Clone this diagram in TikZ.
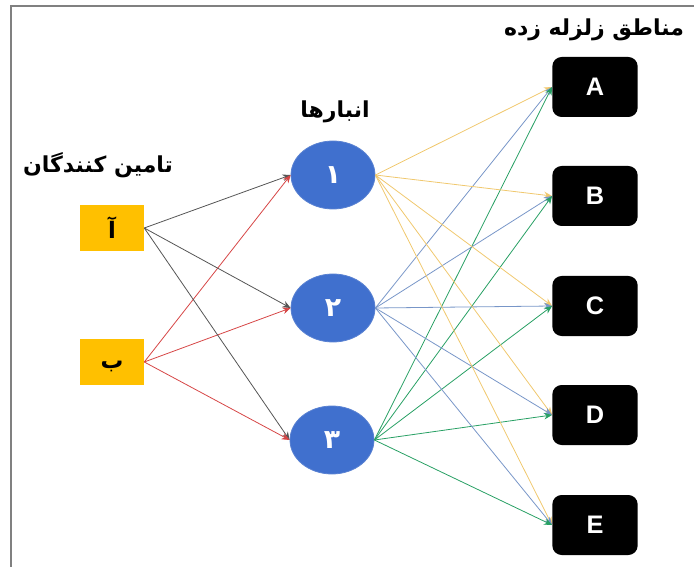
\documentclass[tikz,border=0pt]{standalone}
\usepackage{fontspec}
\setmainfont{Liberation Sans}
\newfontfamily\farsi[Script=Arabic]{DejaVu Sans}
\TeXXeTstate=1
\usetikzlibrary{shapes.geometric,arrows.meta}

\definecolor{frameg}{RGB}{128,128,128}
\definecolor{supfill}{RGB}{255,192,0}
\definecolor{whfill}{RGB}{64,112,206}
\definecolor{whedge}{RGB}{90,130,210}
\definecolor{linea}{RGB}{85,85,85}
\definecolor{lineb}{RGB}{214,70,70}
\definecolor{linew1}{RGB}{240,200,110}
\definecolor{linew2}{RGB}{120,150,200}
\definecolor{linew3}{RGB}{40,160,100}

\tikzset{
  supbox/.style={rectangle, fill=supfill, minimum width=48pt, minimum height=34pt,
    inner sep=0pt, font=\farsi\bfseries\fontsize{17}{19}\selectfont},
  whnode/.style={ellipse, fill=whfill, draw=whedge, line width=0.6pt,
    minimum width=63pt, minimum height=51pt, inner sep=0pt, text=white,
    font=\farsi\bfseries\fontsize{20}{22}\selectfont},
  zone/.style={rectangle, rounded corners=7pt, fill=black, minimum width=64pt,
    minimum height=45pt, inner sep=0pt, text=white,
    font=\bfseries\fontsize{19}{21}\selectfont},
  heading/.style={font=\farsi\bfseries\fontsize{16.5}{18}\selectfont},
  link/.style={line width=0.6pt, -{Stealth[length=6pt,width=5pt]}},
}

\begin{document}
\begin{tikzpicture}[x=0.75pt,y=-0.75pt]
\useasboundingbox (0,0) rectangle (694,567);
\draw[frameg, line width=1.6pt] (11,567) -- (11,6) -- (694,6);

% headings
\node[heading] (hs) at (98,165) {\beginR تامین کنندگان\endR};
\node[heading] (hw) at (335,112) {\beginR انبارها\endR};
\node[heading] (hz) at (594,30) {\beginR مناطق زلزله زده\endR};

% suppliers
\node[supbox] (s1) at (112,228) {\beginR آ\endR};
\node[supbox] (s2) at (112,362) {\raisebox{-5pt}[0pt][0pt]{\beginR ب\endR}};

% warehouses
\node[whnode] (w1) at (333,175) {\beginR ۱\endR};
\node[whnode] (w2) at (333,308) {\beginR ۲\endR};
\node[whnode] (w3) at (332,440) {\beginR ۳\endR};

% affected zones
\node[zone] (zA) at (595,87) {A};
\node[zone] (zB) at (595,196) {B};
\node[zone] (zC) at (595,306) {C};
\node[zone] (zD) at (595,415) {D};
\node[zone] (zE) at (595,525) {E};

% supplier -> warehouse
\foreach \w in {w1,w2,w3} {
  \draw[link, linea] (s1.east) -- (\w.west);
  \draw[link, lineb] (s2.east) -- (\w.west);
}

% warehouse -> zone
\foreach \z in {zA,zB,zC,zD,zE} {
  \draw[link, linew1] (w1.east) -- (\z.west);
  \draw[link, linew2] (w2.east) -- (\z.west);
  \draw[link, linew3] (w3.east) -- (\z.west);
}
\end{tikzpicture}
\end{document}
